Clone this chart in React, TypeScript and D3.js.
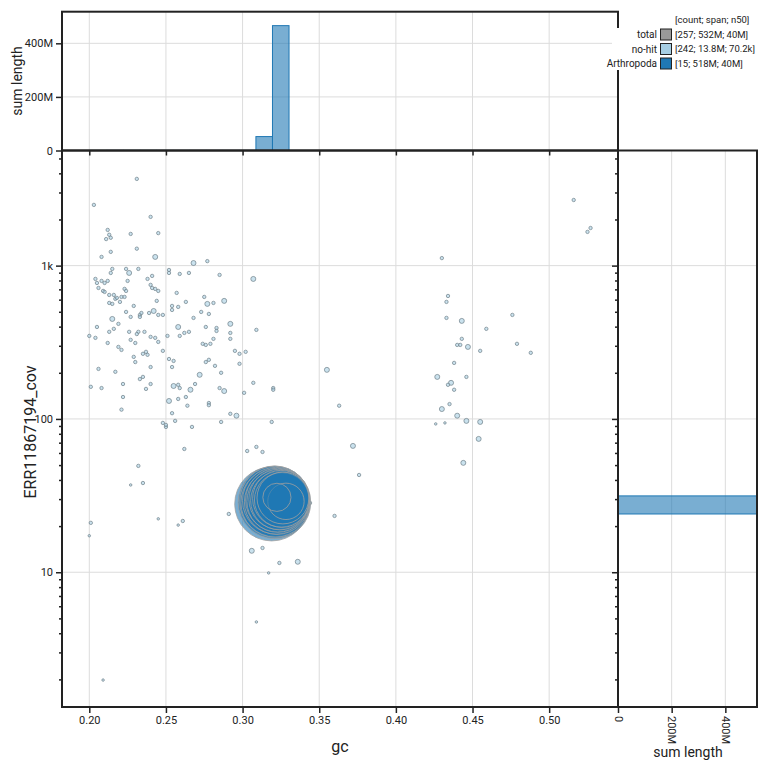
import React, { useEffect, useRef } from 'react';
import * as d3 from 'd3';

// no-hit contigs: gc proportion, read coverage, length (kb)
const noHitGc = [
  0.231, 0.203, 0.240, 0.212, 0.213, 0.211, 0.214, 0.227, 0.245, 0.231,
  0.214, 0.208, 0.243, 0.268, 0.277, 0.215, 0.224, 0.232, 0.214, 0.226,
  0.252, 0.252, 0.259, 0.265, 0.285, 0.307, 0.241, 0.238, 0.204, 0.205,
  0.208, 0.210, 0.212, 0.225, 0.206, 0.240, 0.241, 0.243, 0.245, 0.209,
  0.210, 0.223, 0.224, 0.257, 0.213, 0.216, 0.217, 0.218, 0.221, 0.223,
  0.220, 0.213, 0.215, 0.229, 0.244, 0.254, 0.254, 0.258, 0.263, 0.275,
  0.277, 0.281, 0.288, 0.224, 0.227, 0.233, 0.234, 0.233, 0.239, 0.242,
  0.245, 0.248, 0.268, 0.273, 0.278, 0.215, 0.219, 0.205, 0.216, 0.213,
  0.226, 0.232, 0.236, 0.231, 0.200, 0.204, 0.240, 0.243, 0.245, 0.251,
  0.258, 0.259, 0.262, 0.265, 0.276, 0.283, 0.283, 0.292, 0.292, 0.292,
  0.281, 0.309, 0.212, 0.227, 0.230, 0.219, 0.221, 0.248, 0.235, 0.238,
  0.237, 0.274, 0.276, 0.279, 0.295, 0.298, 0.302, 0.229, 0.230,
  0.252, 0.255, 0.298, 0.276, 0.278, 0.282, 0.254, 0.240, 0.206, 0.217, 0.286,
  0.272, 0.235, 0.233, 0.222, 0.240, 0.237, 0.201, 0.208, 0.255, 0.258,
  0.259, 0.266, 0.269, 0.285, 0.288, 0.307, 0.301, 0.320, 0.320, 0.355,
  0.263, 0.264, 0.222, 0.252, 0.258, 0.363, 0.278, 0.278, 0.221, 0.254,
  0.256, 0.248, 0.250, 0.250, 0.267, 0.292, 0.296, 0.286, 0.319, 0.262,
  0.303, 0.309, 0.313, 0.372, 0.376, 0.232, 0.227, 0.235, 0.245, 0.261,
  0.258, 0.291, 0.201, 0.200, 0.360, 0.344, 0.306, 0.313, 0.324, 0.336,
  0.317, 0.309, 0.209, 0.516, 0.527, 0.525, 0.430, 0.434, 0.433, 0.476,
  0.433, 0.443, 0.459, 0.443, 0.440, 0.442, 0.447, 0.455, 0.479, 0.488,
  0.438, 0.427, 0.436, 0.434, 0.446, 0.438, 0.430, 0.435, 0.440, 0.446,
  0.455, 0.426, 0.432, 0.454, 0.444,
];
const noHitCov = [
  3680, 2490, 2080, 1710, 1590, 1490, 1520, 1610, 1630, 1290,
  1230, 1140, 1140, 1040, 1070, 952, 952, 952, 896, 896,
  937, 896, 883, 896, 870, 819, 857, 819, 819, 771,
  795, 771, 795, 795, 715, 749, 715, 705, 684, 684,
  674, 705, 684, 664, 644, 644, 607, 616, 625, 625,
  580, 571, 563, 546, 589, 546, 514, 538, 580, 625,
  563, 571, 589, 499, 463, 477, 491, 463, 491, 506,
  477, 477, 456, 499, 484, 449, 417, 398, 387, 370,
  370, 370, 370, 358, 348, 338, 343, 338, 318, 348,
  398, 348, 364, 370, 398, 392, 375, 417, 364, 333,
  333, 381, 313, 328, 313, 295, 282, 278, 266, 262,
  274, 309, 304, 309, 278, 266, 274, 254, 235,
  246, 239, 229, 235, 243, 222, 218, 218, 212, 203, 200,
  194, 188, 182, 169, 169, 157, 162, 159, 164, 167,
  159, 155, 169, 159, 152, 172, 148, 159, 155, 209,
  139, 122, 139, 131, 135, 122, 127, 123, 115, 109,
  97.1, 94.2, 88.7, 91.4, 88.7, 108, 105, 95.6, 95.6, 63.7,
  61.8, 65.7, 60.9, 66.7, 43.1, 49.4, 37.1, 38.2, 22.3, 21.6,
  20.3, 24.0, 21.0, 17.3, 23.3, 28.3, 13.8, 14.4, 11.5, 11.7,
  9.9, 4.74, 1.98, 2680, 1760, 1660, 1120, 634, 580, 477,
  456, 436, 387, 333, 304, 304, 295, 278, 309, 270,
  232, 188, 172, 167, 188, 155, 116, 125, 105, 97.1,
  95.6, 92.8, 94.2, 74.1, 51.7,
];
const noHitLen = [
  32, 32, 32, 32, 32, 32, 32, 32, 32, 32,
  32, 32, 115, 115, 32, 32, 32, 32, 32, 115,
  32, 32, 32, 32, 32, 115, 32, 32, 32, 32,
  32, 32, 32, 32, 32, 32, 32, 32, 32, 32,
  32, 32, 32, 32, 32, 32, 32, 32, 32, 32,
  32, 32, 32, 32, 32, 32, 32, 32, 32, 32,
  115, 32, 115, 32, 32, 32, 32, 32, 32, 115,
  32, 32, 32, 32, 32, 115, 32, 32, 32, 32,
  32, 32, 32, 32, 32, 32, 32, 32, 32, 32,
  115, 32, 32, 32, 32, 32, 32, 115, 32, 32,
  32, 32, 32, 32, 32, 32, 32, 32, 32, 32,
  32, 32, 32, 32, 32, 32, 32, 32, 32,
  32, 32, 32, 32, 32, 32, 32, 32, 32, 32, 32,
  115, 32, 32, 32, 32, 32, 32, 32, 115, 32,
  32, 115, 32, 32, 115, 32, 32, 32, 32, 115,
  32, 32, 32, 115, 32, 32, 32, 32, 32, 32,
  32, 32, 32, 32, 32, 32, 115, 32, 32, 32,
  32, 32, 32, 115, 32, 32, 8, 32, 8, 32,
  8, 32, 32, 8, 32, 32, 115, 32, 32, 115,
  8, 8, 8, 32, 32, 32, 32, 32, 32, 32,
  32, 115, 32, 32, 32, 32, 115, 32, 32, 32,
  32, 115, 115, 32, 32, 32, 115, 32, 115, 115,
  115, 8, 8, 115, 115,
];

// Arthropoda contigs (length in Mb)
const arthGc = [0.319, 0.3208, 0.3211, 0.3214, 0.3217, 0.3224, 0.3227, 0.3230, 0.3237, 0.3243, 0.3250, 0.3256, 0.3263, 0.3283, 0.3224];
const arthCov = [27.9, 28.6, 29.0, 28.4, 29.3, 28.8, 29.6, 29.0, 29.9, 29.3, 30.2, 29.6, 30.5, 29.0, 30.8];
const arthLen = [52, 50, 47, 45, 42, 40, 38, 36, 34, 32, 30, 28, 25, 12, 7];

const legendLabels = ['total', 'no-hit', 'Arthropoda'];
const legendStats = ['[257; 532M; 40M]', '[242; 13.8M; 70.2k]', '[15; 518M; 40M]'];
const legendColors = ['#999999', '#a6cee3', '#1f78b4'];

const gcTicks = [0.2, 0.25, 0.3, 0.35, 0.4, 0.45, 0.5];
const covTicks = [10, 100, 1000];
const spanTicks = [0, 2e8, 4e8];

// histogram bins (gc linear, coverage in log10 units)
const gcBinStart = 0.1791;
const gcBinStep = 0.0108;
const covBinStart = 0.082;
const covBinStep = 0.118;

const App = () => {
  const svgRef = useRef<SVGSVGElement>(null);

  useEffect(() => {
    const svg = d3.select(svgRef.current);
    svg.selectAll('*').remove();

    const left = 62, right = 618, top = 150.5, bottom = 707;
    const histTop = 11.7, histRight = 757;
    const ink = '#222';
    const grid = '#dcdcdc';

    const x = d3.scaleLinear().domain([0.1822, 0.5449]).range([left, right]);
    const y = d3.scaleLog().domain([Math.pow(10, 0.121), Math.pow(10, 3.751)]).range([bottom, top]);

    const noHit = noHitGc.map((gc, i) => ({ gc, cov: noHitCov[i], len: noHitLen[i] * 1e3 }));
    const arth = arthGc.map((gc, i) => ({ gc, cov: arthCov[i], len: arthLen[i] * 1e6 }));

    const r = d3.scaleSqrt().domain([0, d3.max(arth, d => d.len)]).range([0.8, 37]);

    const binGc = (pts) => {
      const m = new Map();
      pts.forEach(p => {
        const k = Math.floor((p.gc - gcBinStart) / gcBinStep + 1e-9);
        m.set(k, (m.get(k) || 0) + p.len);
      });
      return Array.from(m, ([k, v]) => ({ x0: gcBinStart + k * gcBinStep, x1: gcBinStart + (k + 1) * gcBinStep, v }));
    };
    const binCov = (pts) => {
      const m = new Map();
      pts.forEach(p => {
        const k = Math.floor((Math.log10(p.cov) - covBinStart) / covBinStep + 1e-9);
        m.set(k, (m.get(k) || 0) + p.len);
      });
      return Array.from(m, ([k, v]) => ({ y0: Math.pow(10, covBinStart + k * covBinStep), y1: Math.pow(10, covBinStart + (k + 1) * covBinStep), v }));
    };

    const groups = [
      { pts: noHit, color: '#a6cee3' },
      { pts: arth, color: '#1f78b4' },
    ].map(g => ({ ...g, gcBins: binGc(g.pts), covBins: binCov(g.pts) }));

    const histMax = d3.max(groups, g => Math.max(d3.max(g.gcBins, b => b.v), d3.max(g.covBins, b => b.v)));
    const hy = d3.scaleLinear().domain([0, histMax]).range([top, histTop]);
    const hx = d3.scaleLinear().domain([0, histMax]).range([right, histRight]).clamp(true);

    // gridlines
    const g0 = svg.append('g').attr('stroke', grid).attr('stroke-width', 1);
    gcTicks.forEach(t => {
      g0.append('line').attr('x1', x(t)).attr('x2', x(t)).attr('y1', histTop).attr('y2', bottom);
    });
    covTicks.forEach(t => {
      g0.append('line').attr('x1', left).attr('x2', histRight).attr('y1', y(t)).attr('y2', y(t));
    });
    spanTicks.slice(1).forEach(t => {
      g0.append('line').attr('x1', left).attr('x2', right).attr('y1', hy(t)).attr('y2', hy(t));
      g0.append('line').attr('x1', hx(t)).attr('x2', hx(t)).attr('y1', top).attr('y2', bottom);
    });

    // histograms
    groups.forEach(g => {
      svg.append('g').selectAll('rect').data(g.gcBins).enter().append('rect')
        .attr('x', d => x(d.x0)).attr('width', d => x(d.x1) - x(d.x0))
        .attr('y', d => hy(d.v)).attr('height', d => top - hy(d.v))
        .attr('fill', g.color).attr('fill-opacity', 0.6).attr('stroke', g.color).attr('stroke-width', 1);
      svg.append('g').selectAll('rect').data(g.covBins).enter().append('rect')
        .attr('x', right).attr('width', d => hx(d.v) - right)
        .attr('y', d => y(d.y1)).attr('height', d => y(d.y0) - y(d.y1))
        .attr('fill', g.color).attr('fill-opacity', 0.6).attr('stroke', g.color).attr('stroke-width', 1);
    });

    // scatter
    svg.append('g').selectAll('circle').data(noHit).enter().append('circle')
      .attr('cx', d => x(d.gc)).attr('cy', d => y(d.cov)).attr('r', d => r(d.len))
      .attr('fill', '#a6cee3').attr('fill-opacity', 0.6).attr('stroke', '#6f7f88').attr('stroke-width', 0.7);
    svg.append('g').selectAll('circle').data(arth.slice().sort((a, b) => b.len - a.len)).enter().append('circle')
      .attr('cx', d => x(d.gc)).attr('cy', d => y(d.cov)).attr('r', d => r(d.len))
      .attr('fill', '#1f78b4').attr('fill-opacity', 0.6).attr('stroke', '#a0a0a0').attr('stroke-width', 0.8);

    // frames
    const frame = (x0, y0, x1, y1) => svg.append('rect').attr('x', x0).attr('y', y0)
      .attr('width', x1 - x0).attr('height', y1 - y0)
      .attr('fill', 'none').attr('stroke', ink).attr('stroke-width', 2);
    frame(left, top, right, bottom);
    frame(left, histTop, right, top);
    frame(right, top, histRight, bottom);

    const fmtS = d3.format('~s');
    const covMinor = [];
    [1, 10, 100, 1000].forEach(dec => d3.range(2, 10).forEach(k => {
      const v = k * dec;
      if (v > y.domain()[0] && v < y.domain()[1]) covMinor.push(v);
    }));

    const style = (g) => {
      g.select('.domain').remove();
      g.selectAll('line').attr('stroke', ink).attr('stroke-width', 1.5);
      g.selectAll('text').attr('fill', ink).style('font-size', '11px').style('font-family', 'Roboto, sans-serif');
    };

    svg.append('g').attr('transform', `translate(0,${bottom})`)
      .call(d3.axisBottom(x).tickValues(gcTicks).tickFormat(d3.format('.2f')).tickSize(6)).call(style);
    svg.append('g').attr('transform', `translate(${left},0)`)
      .call(d3.axisLeft(y).tickValues(covTicks).tickFormat(fmtS).tickSize(6)).call(style);
    svg.append('g').attr('transform', `translate(${left},0)`)
      .call(d3.axisLeft(y).tickValues(covMinor).tickFormat(() => '').tickSize(3)).call(style);

    svg.append('g').attr('transform', `translate(0,${top})`)
      .call(d3.axisBottom(x).tickValues(gcTicks).tickFormat(() => '').tickSize(5)).call(style);
    svg.append('g').attr('transform', `translate(${left},0)`)
      .call(d3.axisLeft(hy).tickValues(spanTicks).tickFormat(fmtS).tickSize(6)).call(style);

    svg.append('g').attr('transform', `translate(${right},0)`)
      .call(d3.axisLeft(y).tickValues(covTicks).tickFormat(() => '').tickSize(6)).call(style);
    svg.append('g').attr('transform', `translate(${right},0)`)
      .call(d3.axisLeft(y).tickValues(covMinor).tickFormat(() => '').tickSize(3)).call(style);
    const bx = svg.append('g').attr('transform', `translate(0,${bottom})`)
      .call(d3.axisBottom(hx).tickValues(spanTicks).tickFormat(fmtS).tickSize(6)).call(style);
    bx.selectAll('text').attr('transform', 'rotate(90)').attr('x', 9).attr('y', 0)
      .attr('dy', '0.35em').style('text-anchor', 'start');

    // axis titles
    const title = (tx, ty, rot, size, txt) => svg.append('text')
      .attr('transform', `translate(${tx},${ty}) rotate(${rot})`)
      .attr('text-anchor', 'middle').attr('fill', ink)
      .style('font-size', `${size}px`).style('font-family', 'Roboto, sans-serif').text(txt);
    title(340, 752, 0, 16, 'gc');
    title(36, 432, -90, 16, 'ERR11867194_cov');
    title(22, 81, -90, 14, 'sum length');
    title(688, 757, 0, 14, 'sum length');

    // legend
    const lg = svg.append('g').style('font-family', 'Roboto, sans-serif').style('font-size', '10px');
    lg.append('rect').attr('x', 612).attr('y', 28).attr('width', 158).attr('height', 42).attr('fill', '#fff');
    lg.append('text').attr('x', 675).attr('y', 20).attr('dy', '0.35em').attr('fill', ink)
      .style('font-size', '9.5px').text('[count; span; n50]');
    legendLabels.forEach((lab, i) => {
      const cy = 34.5 + i * 14.5;
      lg.append('text').attr('x', 657).attr('y', cy).attr('dy', '0.35em').attr('text-anchor', 'end')
        .attr('fill', ink).text(lab);
      lg.append('rect').attr('x', 660.5).attr('y', cy - 5.5).attr('width', 11).attr('height', 11)
        .attr('fill', legendColors[i]).attr('stroke', ink).attr('stroke-width', 1);
      lg.append('text').attr('x', 675).attr('y', cy).attr('dy', '0.35em').attr('fill', ink)
        .style('font-size', '9.5px').text(legendStats[i]);
    });
  }, []);

  return (
    <svg ref={svgRef} width={770} height={770}
      style={{ position: 'absolute', left: 0, top: 0, background: '#fff', fontFamily: 'Roboto, sans-serif' }} />
  );
};

export default App;
